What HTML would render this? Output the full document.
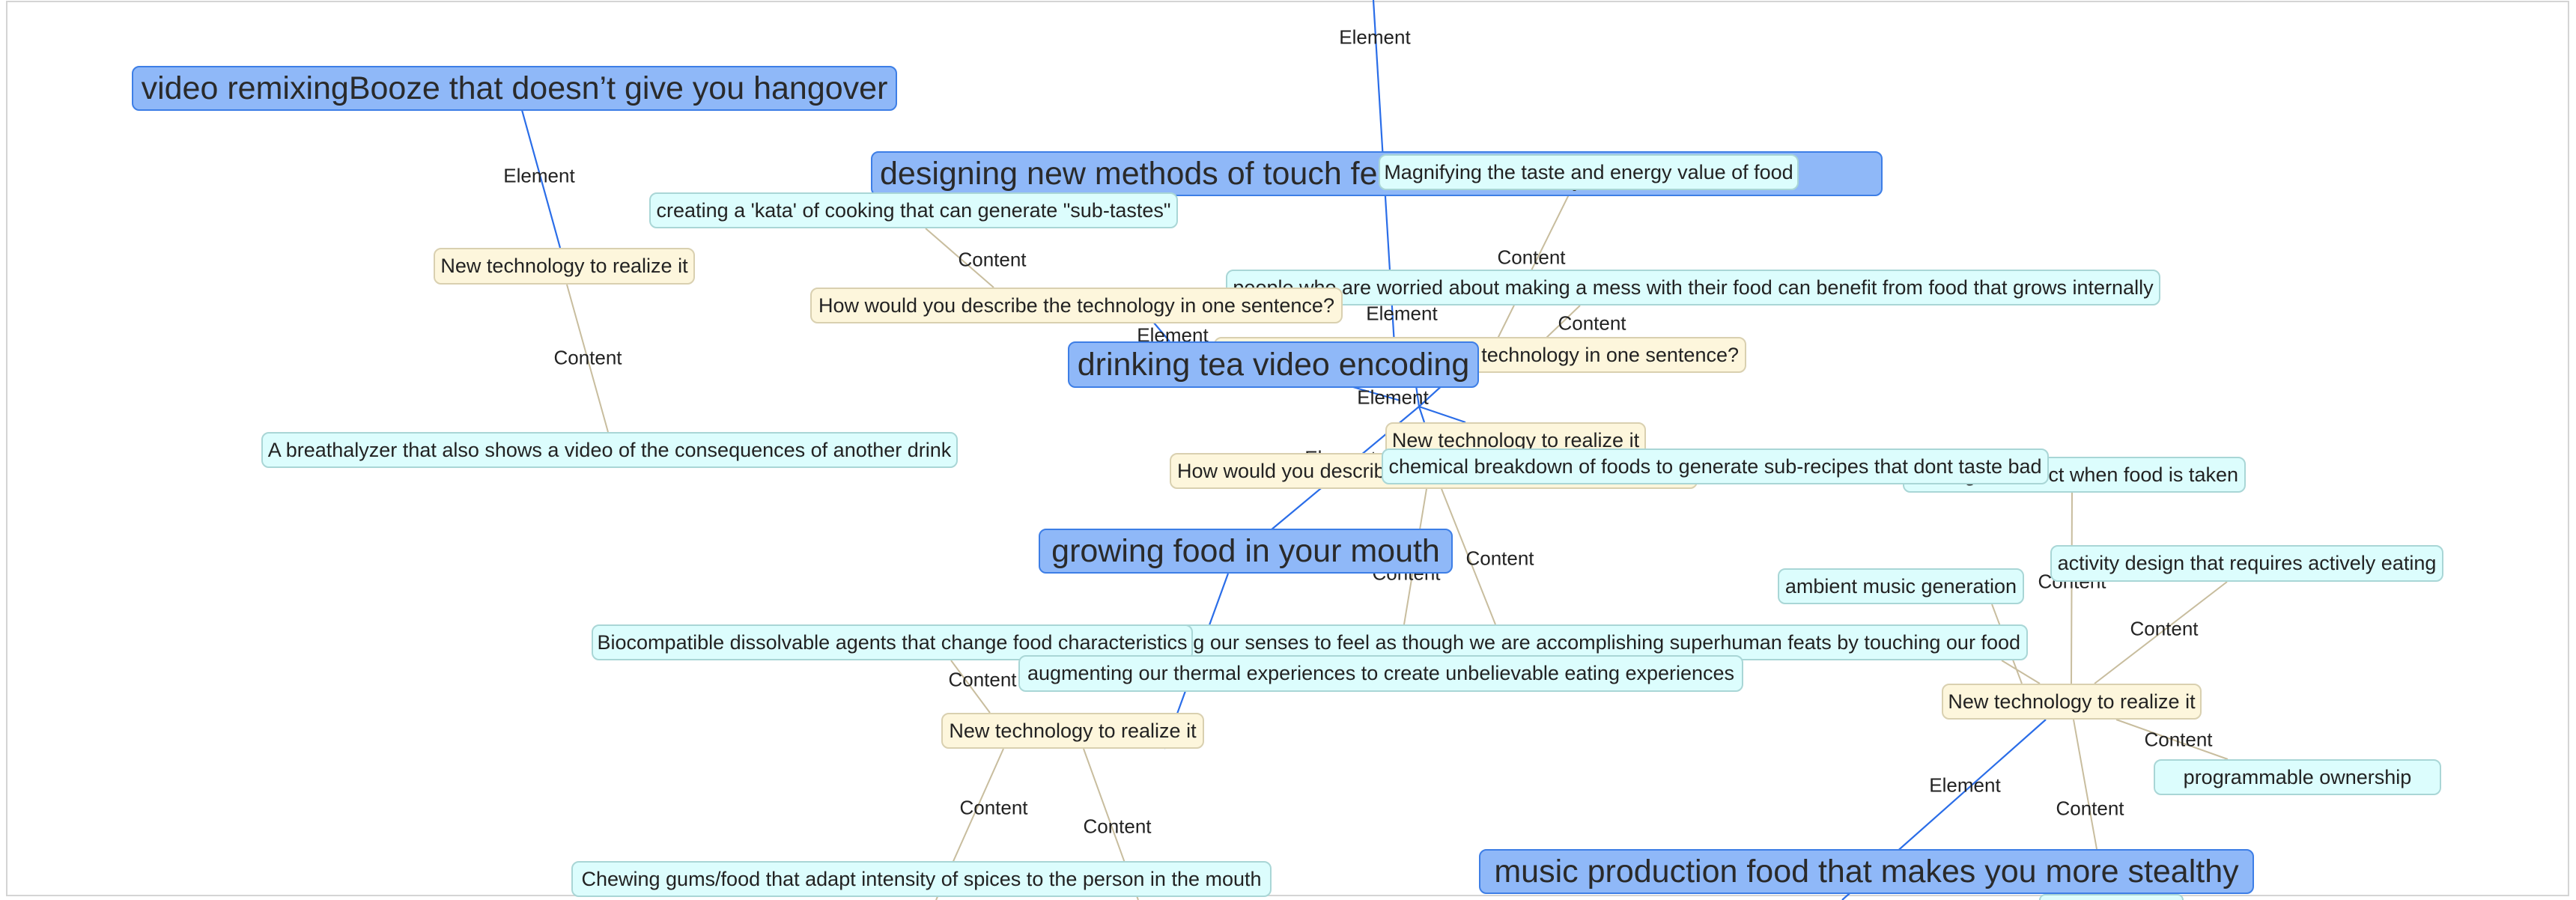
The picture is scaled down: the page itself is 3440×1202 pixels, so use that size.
<!DOCTYPE html>
<html><head><meta charset="utf-8"><style>
html,body{margin:0;padding:0;background:#fff;overflow:hidden;width:3440px;height:1202px;}
body{position:relative;font-family:"Liberation Sans",Arial,sans-serif;color:#222;}
.frame{position:absolute;left:8px;top:1px;width:3423px;height:1196px;border:2px solid #d4d4d4;box-sizing:border-box;}
svg{position:absolute;left:0;top:0;}
.n{position:absolute;box-sizing:border-box;border-radius:10px;display:flex;align-items:center;justify-content:center;white-space:nowrap;overflow:hidden;}
.b{background:#8fb8f8;border:2px solid #3d7ee6;font-size:43px;color:#2a2a2a;}
.c{background:#dcfdfd;border:2px solid #a9d6d6;font-size:27px;}
.y{background:#fdf6dc;border:2px solid #d9d0b0;font-size:27px;}
.r{justify-content:flex-end;padding-right:8px;}
.l{position:absolute;font-size:26px;color:#222;white-space:nowrap;transform:translate(-50%,-50%);}
</style></head><body>
<div class="frame"></div>
<svg width="3440" height="1202">
<g stroke="#2a6de8" stroke-width="2.2" fill="none">
<line x1="1834" y1="0" x2="1862" y2="460"/>
<line x1="697" y1="147" x2="748" y2="331"/>
<line x1="1891" y1="515" x2="1895" y2="543"/>
<line x1="1895" y1="543" x2="1929" y2="512"/>
<line x1="1895" y1="543" x2="1902" y2="564"/>
<line x1="1895" y1="543" x2="1957" y2="564"/>
<line x1="1895" y1="543" x2="1697" y2="708"/>
<line x1="1800" y1="515" x2="1870" y2="535"/>
<line x1="1540" y1="430" x2="1562" y2="456"/>
<line x1="1640" y1="766" x2="1555" y2="1000"/>
<line x1="2732" y1="961" x2="2460" y2="1202"/>
</g>
<g stroke="#c8bd9e" stroke-width="2" fill="none">
<line x1="757" y1="380" x2="812" y2="577"/>
<line x1="1236" y1="305" x2="1327" y2="384"/>
<line x1="2098" y1="254" x2="2000" y2="452"/>
<line x1="2110" y1="408" x2="2064" y2="452"/>
<line x1="1905" y1="653" x2="1875" y2="834"/>
<line x1="1925" y1="653" x2="1997" y2="834"/>
<line x1="2767" y1="658" x2="2766" y2="913"/>
<line x1="2974" y1="777" x2="2797" y2="913"/>
<line x1="2660" y1="807" x2="2700" y2="913"/>
<line x1="2673" y1="882" x2="2724" y2="913"/>
<line x1="2826" y1="961" x2="2975" y2="1014"/>
<line x1="2769" y1="961" x2="2800" y2="1134"/>
<line x1="1270" y1="882" x2="1322" y2="952"/>
<line x1="1340" y1="1000" x2="1250" y2="1202"/>
<line x1="1447" y1="1000" x2="1520" y2="1202"/>
</g>
</svg>

<div class="l" style="left:1836px;top:50px">Element</div>
<div class="l" style="left:720px;top:235px">Element</div>
<div class="l" style="left:1325px;top:347px">Content</div>
<div class="l" style="left:2045px;top:344px">Content</div>
<div class="l" style="left:785px;top:478px">Content</div>
<div class="l" style="left:2126px;top:432px">Content</div>
<div class="l" style="left:1872px;top:419px">Element</div>
<div class="l" style="left:1566px;top:448px">Element</div>
<div class="l" style="left:1860px;top:531px">Element</div>
<div class="l" style="left:1790px;top:612px">Element</div>
<div class="l" style="left:2003px;top:746px">Content</div>
<div class="l" style="left:1878px;top:766px">Content</div>
<div class="l" style="left:2767px;top:777px">Content</div>
<div class="l" style="left:2890px;top:840px">Content</div>
<div class="l" style="left:1312px;top:908px">Content</div>
<div class="l" style="left:2909px;top:988px">Content</div>
<div class="l" style="left:2624px;top:1049px">Element</div>
<div class="l" style="left:1327px;top:1079px">Content</div>
<div class="l" style="left:1492px;top:1104px">Content</div>
<div class="l" style="left:2791px;top:1080px">Content</div>

<div class="n b" style="left:176px;top:88px;width:1022px;height:60px">video remixingBooze that doesn’t give you hangover</div>
<div class="n b" style="left:1163px;top:202px;width:1351px;height:60px;justify-content:flex-start;padding-left:10px">designing new methods of touch feedback to respond to fire</div>
<div class="n c" style="left:1841px;top:206px;width:561px;height:48px">Magnifying the taste and energy value of food</div>
<div class="n c" style="left:867px;top:257px;width:706px;height:48px">creating a 'kata' of cooking that can generate "sub-tastes"</div>
<div class="n y" style="left:579px;top:331px;width:349px;height:49px">New technology to realize it</div>
<div class="n c" style="left:1637px;top:360px;width:1248px;height:48px">people who are worried about making a mess with their food can benefit from food that grows internally</div>
<div class="n y" style="left:1082px;top:384px;width:711px;height:48px">How would you describe the technology in one sentence?</div>
<div class="n y r" style="left:1621px;top:450px;width:711px;height:48px">How would you describe the technology in one sentence?</div>
<div class="n b" style="left:1426px;top:456px;width:549px;height:62px">drinking tea video encoding</div>
<div class="n c" style="left:349px;top:577px;width:930px;height:48px">A breathalyzer that also shows a video of the consequences of another drink</div>
<div class="n y" style="left:1850px;top:564px;width:348px;height:48px">New technology to realize it</div>
<div class="n y" style="left:1562px;top:605px;width:705px;height:48px;justify-content:flex-start;padding-left:8px">How would you describe the technology in one sentence?</div>
<div class="n c r" style="left:2541px;top:610px;width:458px;height:48px">sensing the effect when food is taken</div>
<div class="n c" style="left:1845px;top:599px;width:891px;height:48px">chemical breakdown of foods to generate sub-recipes that dont taste bad</div>
<div class="n b" style="left:1387px;top:706px;width:553px;height:60px">growing food in your mouth</div>
<div class="n c" style="left:2738px;top:728px;width:525px;height:49px">activity design that requires actively eating</div>
<div class="n c" style="left:2374px;top:759px;width:329px;height:48px">ambient music generation</div>
<div class="n c r" style="left:1575px;top:834px;width:1133px;height:48px">augmenting our senses to feel as though we are accomplishing superhuman feats by touching our food</div>
<div class="n c" style="left:790px;top:834px;width:803px;height:48px">Biocompatible dissolvable agents that change food characteristics</div>
<div class="n c" style="left:1360px;top:875px;width:968px;height:49px">augmenting our thermal experiences to create unbelievable eating experiences</div>
<div class="n y" style="left:2593px;top:913px;width:347px;height:48px">New technology to realize it</div>
<div class="n y" style="left:1257px;top:952px;width:351px;height:48px">New technology to realize it</div>
<div class="n c" style="left:2876px;top:1014px;width:384px;height:48px">programmable ownership</div>
<div class="n c" style="left:2723px;top:1194px;width:193px;height:8px;border-bottom:none;border-radius:10px 10px 0 0"></div>
<div class="n b" style="left:1975px;top:1134px;width:1035px;height:60px">music production food that makes you more stealthy</div>
<div class="n c" style="left:763px;top:1150px;width:935px;height:48px">Chewing gums/food that adapt intensity of spices to the person in the mouth</div>
</body></html>
